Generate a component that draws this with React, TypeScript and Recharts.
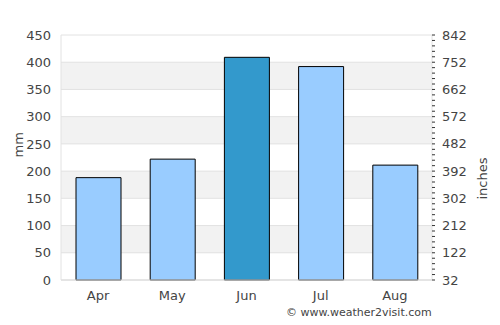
import { Bar, Line, XAxis, YAxis, CartesianGrid, Cell, ComposedChart } from "recharts";

const months = ["Apr", "May", "Jun", "Jul", "Aug"];
const rainfallMm = [188, 222, 409, 392, 211];
const leftTicks = [0, 50, 100, 150, 200, 250, 300, 350, 400, 450];
const rightTickLabels = ["32", "122", "212", "302", "392", "482", "572", "662", "752", "842"];
const rightMinorTicks = Array.from({ length: 46 }, (_, i) => i * 10);

const data = months.map((m, i) => ({ month: m, mm: rainfallMm[i] }));
const peak = Math.max(...rainfallMm);

const renderRightTick = (props: any) => {
  const { x, y, payload } = props;
  const v = payload.value as number;
  const major = v % 50 === 0;
  return (
    <g key={`rt-${v}`}>
      <line x1={x} x2={x + 3} y1={y} y2={y} stroke="#333" strokeWidth={1} />
      {major && (
        <text x={x + 10} y={y} dy={4.5} fontSize={13} fill="#444" textAnchor="start">
          {rightTickLabels[v / 50]}
        </text>
      )}
    </g>
  );
};

export default function App() {
  return (
    <div style={{ position: "absolute", left: 0, top: 0, width: 500, height: 325, fontFamily: "DejaVu Sans" }}>
      <ComposedChart
        width={500}
        height={325}
        data={data}
        margin={{ top: 35, right: 0, bottom: 0, left: 0 }}
        barCategoryGap={0}
      >
        <CartesianGrid
          yAxisId="left"
          vertical={false}
          stroke="#e2e2e2"
          horizontalFill={["#ffffff", "#f2f2f2"]}
          fillOpacity={1}
        />
        <XAxis
          dataKey="month"
          height={45}
          tickSize={0}
          tickMargin={11}
          axisLine={{ stroke: "#d8d8d8" }}
          tick={{ fontSize: 13, fill: "#444" }}
        />
        <YAxis
          yAxisId="left"
          width={61}
          domain={[0, 450]}
          ticks={leftTicks}
          tickSize={0}
          tickMargin={10}
          axisLine={{ stroke: "#e2e2e2" }}
          tick={{ fontSize: 13, fill: "#444" }}
          label={{ value: "mm", angle: -90, position: "insideLeft", offset: 18, fontSize: 13, fill: "#444" }}
        />
        <YAxis
          yAxisId="right"
          orientation="right"
          width={68}
          domain={[0, 450]}
          ticks={rightMinorTicks}
          interval={0}
          tickSize={0}
          tickMargin={0}
          tickLine={false}
          axisLine={{ stroke: "#e2e2e2" }}
          tick={renderRightTick}
          label={{ value: "inches", angle: -90, position: "insideRight", offset: 18, fontSize: 13, fill: "#444" }}
        />
        <Bar yAxisId="left" dataKey="mm" barSize={45} stroke="#000" strokeWidth={1} isAnimationActive={false}>
          {data.map((d) => (
            <Cell key={d.month} fill={d.mm === peak ? "#3399cc" : "#99ccff"} />
          ))}
        </Bar>
        <Line
          yAxisId="right"
          dataKey="mm"
          stroke="none"
          dot={false}
          activeDot={false}
          legendType="none"
          isAnimationActive={false}
        />
      </ComposedChart>
      <div
        style={{
          position: "absolute",
          left: 286,
          top: 306,
          fontSize: 11,
          color: "#444",
          whiteSpace: "nowrap",
        }}
      >
        © www.weather2visit.com
      </div>
    </div>
  );
}
